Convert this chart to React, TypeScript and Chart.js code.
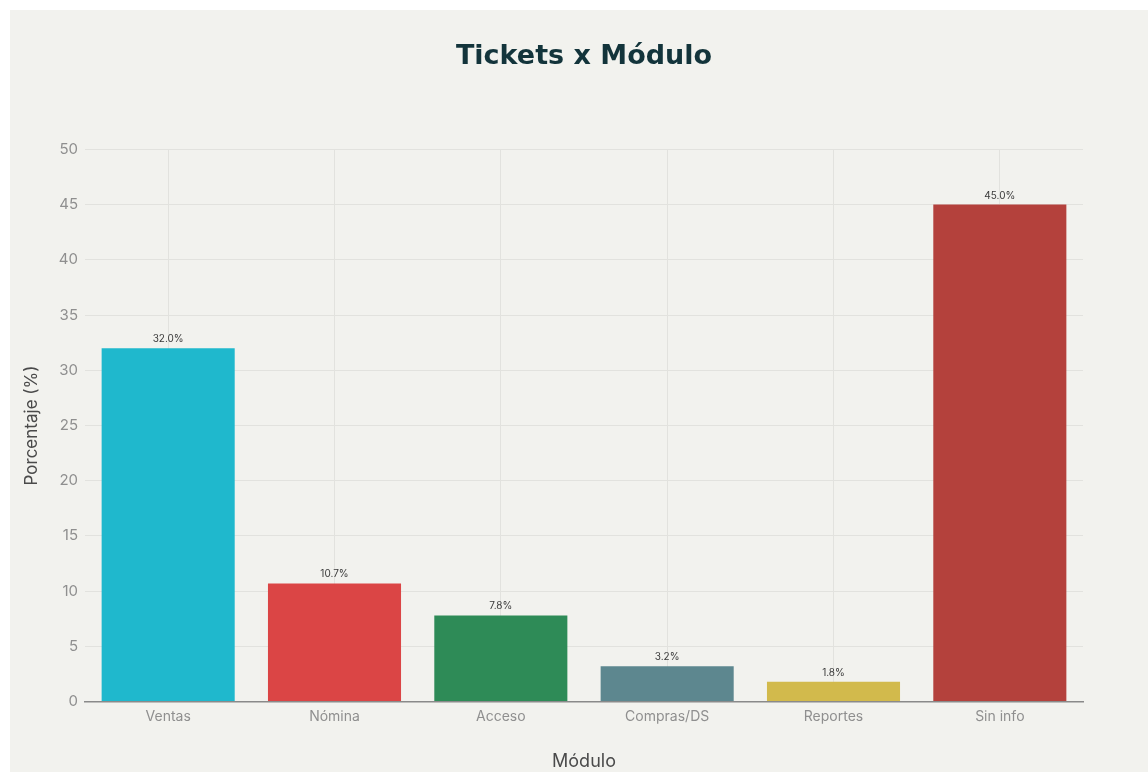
import React, { useEffect, useRef } from "react";
import { Chart, registerables } from "chart.js";

Chart.register(...registerables);

const categories = ["Ventas", "Nómina", "Acceso", "Compras/DS", "Reportes", "Sin info"];
const percentages = [32.0, 10.7, 7.8, 3.2, 1.8, 45.0];
const barColors = ["#1FB8CD", "#DB4545", "#2E8B57", "#5D878F", "#D2BA4C", "#B4413C"];
const yTicks = [0, 5, 10, 15, 20, 25, 30, 35, 40, 45, 50];

const valueLabels = {
  id: "valueLabels",
  afterDatasetsDraw(chart: any) {
    const { ctx } = chart;
    const meta = chart.getDatasetMeta(0);
    const data = chart.data.datasets[0].data as number[];
    ctx.save();
    ctx.font = "10px Inter, 'DejaVu Sans', sans-serif";
    ctx.fillStyle = "#3a3a3a";
    ctx.textAlign = "center";
    ctx.textBaseline = "middle";
    meta.data.forEach((bar: any, i: number) => {
      ctx.fillText(data[i].toFixed(1) + "%", bar.x, bar.y - 9);
    });
    ctx.restore();
  },
};

export default function App() {
  const ref = useRef<HTMLCanvasElement>(null);
  useEffect(() => {
    if (!ref.current) return;
    const chart = new Chart(ref.current, {
      type: "bar",
      data: {
        labels: categories,
        datasets: [
          {
            data: percentages,
            backgroundColor: barColors,
            borderWidth: 0,
            barPercentage: 1,
            categoryPercentage: 0.8,
          },
        ],
      },
      options: {
        responsive: false,
        animation: false,
        layout: { padding: { left: 0, right: 65, top: 0, bottom: 0 } },
        plugins: {
          legend: { display: false },
          tooltip: { enabled: false },
          title: {
            display: true,
            fullSize: false,
            text: "Tickets x Módulo",
            color: "#13343B",
            font: { family: "'DejaVu Sans', Verdana, sans-serif", size: 27, weight: "bold" },
            padding: { top: 31, bottom: 76 },
          },
        },
        scales: {
          x: {
            offset: true,
            grid: { display: true, offset: false, color: "#e2e2de", drawTicks: false },
            border: { display: true, color: "#8a8a8a", width: 1.5 },
            ticks: {
              color: "#8f8f8f",
              font: { family: "Inter, 'DejaVu Sans', sans-serif", size: 14 },
              padding: 7,
            },
            title: {
              display: true,
              text: "Módulo",
              color: "#4a4a4a",
              font: { family: "Inter, 'DejaVu Sans', sans-serif", size: 18 },
              padding: { top: 18, bottom: 0 },
            },
          },
          y: {
            min: 0,
            max: 50,
            afterBuildTicks(scale: any) {
              scale.ticks = yTicks.map((v) => ({ value: v }));
            },
            afterFit(scale: any) {
              scale.width = 75;
            },
            grid: { color: "#e2e2de", drawTicks: false },
            border: { display: false },
            ticks: {
              color: "#8f8f8f",
              font: { family: "Inter, 'DejaVu Sans', sans-serif", size: 15 },
              padding: 7,
            },
            title: {
              display: true,
              text: "Porcentaje (%)",
              color: "#4a4a4a",
              font: { family: "Inter, 'DejaVu Sans', sans-serif", size: 17 },
              padding: { top: 12, bottom: 0 },
            },
          },
        },
      },
      plugins: [valueLabels],
    });
    return () => chart.destroy();
  }, []);
  return (
    <div
      style={{
        position: "absolute",
        left: 10,
        top: 10,
        width: 1138,
        height: 762,
        background: "#f2f2ee",
      }}
    >
      <canvas ref={ref} width={1138} height={762} style={{ display: "block" }} />
    </div>
  );
}
